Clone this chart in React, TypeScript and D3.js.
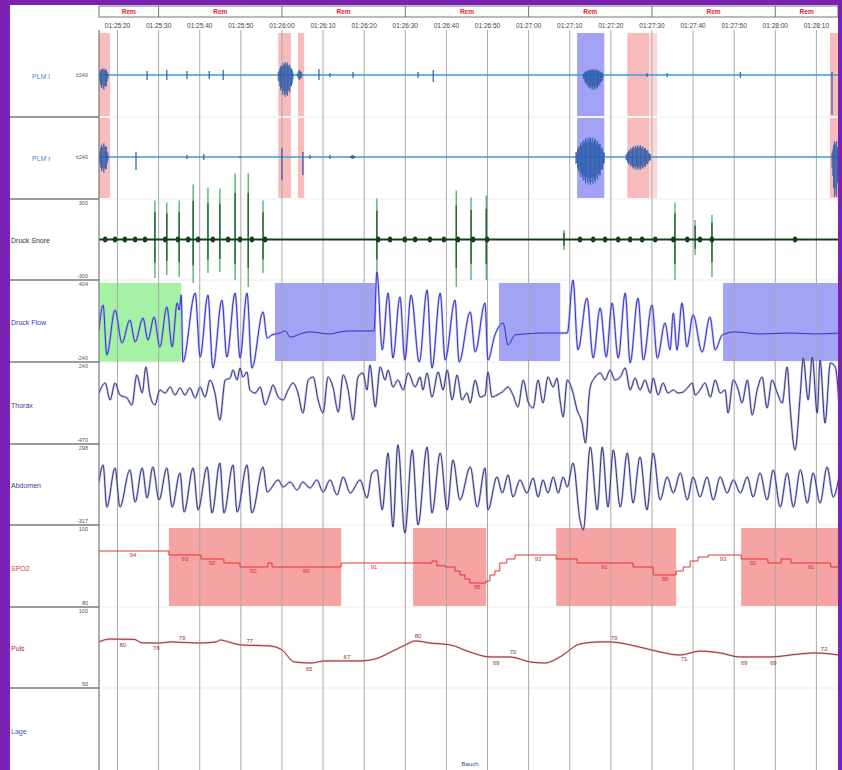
import React from "react";
import * as d3 from "d3";

// ---- time axis (seconds after 01:25:00) ----
const timeTicks = [20, 30, 40, 50, 60, 70, 80, 90, 100, 110, 120, 130, 140, 150, 160, 170, 180, 190];
const epochBounds = [30, 60, 90, 120, 150, 180];
const epochStarts = [15.5, 30, 60, 90, 120, 150, 180];
const epochEnds = [30, 60, 90, 120, 150, 180, 195.5];
const stageLabels = ["Rem", "Rem", "Rem", "Rem", "Rem", "Rem", "Rem"];

// ---- channel labels ----
const channelNames = ["PLM l", "PLM r", "Druck Snore", "Druck Flow", "Thorax", "Abdomen", "SPO2", "Puls", "Lage"];
const scaleTopLabels = ["", "", "300", "404", "240", "298", "100", "100", ""];
const scaleBottomLabels = ["", "", "-300", "-240", "-470", "-317", "80", "50", ""];
const plmScaleLabel = "±240";
const lageText = "Bauch";

// ---- event shading [start, end] in seconds ----
const plmPink: [number, number][] = [[15.5, 18.2], [59.1, 62.2], [63.9, 65.4], [144.0, 149.3], [193.3, 195.5]];
const plmPinkLight: [number, number][] = [[149.3, 151.3]];
const plmBlue: [number, number][] = [[131.8, 138.4]];
const flowGreen: [number, number][] = [[15.5, 35.5]];
const flowBlue: [number, number][] = [[58.3, 82.9], [112.8, 127.7], [167.3, 195.5]];
const spo2Pink: [number, number][] = [[32.5, 74.4], [91.9, 109.7], [126.7, 155.9], [171.7, 195.5]];

// ---- PLM events [tStart, tEnd, up, down] ----
const plmL: [number, number, number, number][] = [
  [15.5, 17.7, 42, 90], [27.2, 27.2, 24, 30], [32.0, 32.0, 30, 30], [36.9, 36.9, 24, 24], [42.3, 42.3, 24, 24],
  [45.7, 45.7, 30, 30], [59.1, 62.7, 78, 132], [63.7, 64.9, 30, 30], [69.0, 69.0, 36, 30], [71.7, 71.7, 12, 12],
  [77.3, 77.3, 18, 18], [93.1, 93.1, 18, 18], [96.8, 96.8, 30, 42], [133.3, 138.1, 36, 90], [148.8, 148.8, 12, 12],
  [153.7, 153.7, 12, 12], [171.5, 171.5, 18, 18], [193.8, 193.8, 18, 240],
];
const plmR: [number, number, number, number][] = [
  [15.5, 17.7, 84, 96], [24.5, 24.5, 30, 78], [36.9, 36.9, 12, 12], [41.0, 41.0, 18, 18], [49.8, 49.8, 6, 6],
  [60.0, 60.0, 54, 138], [65.1, 65.1, 30, 108], [66.8, 66.8, 12, 12], [71.7, 71.7, 12, 12], [76.6, 77.8, 12, 12],
  [131.5, 138.4, 120, 168], [143.7, 149.6, 72, 78], [193.8, 195.5, 102, 258],
];

// ---- Snore spikes [t, up, down] and beads [t] ----
const snoreSpikes: [number, number, number][] = [
  [29.1, 321, -316], [32.0, 304, -292], [35.0, 321, -308], [38.4, 452, -357], [42.0, 427, -275], [44.9, 419, -267],
  [48.6, 542, -333], [51.8, 542, -390], [55.4, 321, -275], [83.1, 337, -275], [102.4, 403, -390], [106.0, 345, -333],
  [109.7, 362, -333], [128.6, 78, -86], [155.6, 304, -333], [160.5, 160, -127], [164.6, 201, -308],
];
const snoreBeads = [17.0, 19.4, 21.8, 24.3, 26.7, 31.6, 34.7, 37.2, 39.6, 43.2, 46.9, 49.8, 52.7, 55.9, 83.4, 86.3, 89.9, 92.4,
  96.0, 99.4, 102.8, 106.5, 109.9, 132.5, 135.7, 138.6, 141.8, 144.7, 147.6, 150.8, 155.2, 158.6, 161.7, 164.6, 184.8];

// ---- Flow extrema [t, value] ----
const flow: [number, number][] = [
  [15.5, 16], [16.5, 222], [17.4, -190], [19.4, 181], [21.1, -91], [23.0, 99], [24.3, -83], [26.2, 115], [27.4, -67],
  [28.9, 123], [30.3, -124], [32.0, 206], [33.3, -124], [34.5, 239], [35.0, 181], [35.5, 305], [35.9, -248],
  [38.9, 321], [40.1, -207], [42.0, 305], [43.2, -298], [45.4, 264], [46.6, -207], [48.6, 321], [49.8, -215],
  [51.5, 321], [52.7, -298], [55.4, 165], [56.4, -50],
  [57.6, -25], [59.5, -9], [60.8, 8], [62.0, -42], [63.2, -34], [64.4, -17], [66.8, 0], [69.3, -9], [71.6, -17],
  [74.1, 0], [76.6, 8], [79.0, 8], [82.4, 8],
  [83.1, 495], [84.4, -149], [85.8, 321], [87.0, -215], [88.7, 289], [89.9, -232], [91.4, 305], [93.4, -248],
  [95.3, 346], [96.5, -298], [98.5, 321], [99.7, -232], [102.1, 264], [103.1, -248], [105.8, 165], [107.0, -166],
  [109.4, 239], [110.1, -232], [111.8, -25], [113.8, 74], [115.0, -108], [116.7, -25], [119.1, -17], [122.8, -9],
  [126.4, -9], [129.4, -9],
  [130.8, 429], [132.0, -149], [134.2, 280], [135.7, -215], [137.4, 198], [138.9, -207], [140.3, 239], [141.8, -215],
  [143.5, 321], [144.7, -256], [146.6, 280], [147.9, -232], [150.0, 222], [151.3, -215], [153.2, 74], [154.4, -149],
  [155.2, 156], [156.1, -149], [157.3, 239], [158.5, -124], [160.0, 140], [162.2, -166], [164.1, 123], [165.4, -149],
  [167.1, -25], [170.2, 0], [176.3, -17], [183.6, -9], [189.7, -17], [195.5, -9],
];

// ---- Thorax extrema [t, value] ----
const thorax: [number, number][] = [
  [15.5, -16], [17.0, 79], [18.2, -82], [19.4, 79], [20.6, -35], [22.3, -63], [23.5, -129], [24.7, 155], [26.0, -16],
  [26.9, 231], [27.9, -35], [29.1, -129], [30.3, 13], [31.6, -16], [32.8, 41], [34.0, -35], [35.2, 32], [36.4, -35],
  [37.6, 32], [38.9, -63], [40.1, 41], [41.3, -54], [42.5, 107], [43.7, -16], [44.9, -271], [46.2, 107], [47.4, 126],
  [48.1, 202], [49.1, 107], [49.8, 221], [50.5, 136], [51.5, 183], [52.2, 13], [53.5, -16], [54.7, 41], [55.9, -129],
  [57.1, -16], [57.8, 60], [59.1, -54], [60.3, -82], [61.5, 13], [62.7, 79], [63.9, -16], [65.1, -205], [66.4, 107],
  [67.6, 136], [68.8, -82], [70.0, -205], [71.2, 136], [72.4, 41], [73.7, -196], [74.9, 155], [76.1, 13], [77.3, -271],
  [78.5, 136], [79.7, 174], [80.7, 13], [81.4, 250], [82.7, -148], [83.9, 231], [85.1, 107], [85.8, 202], [87.0, 41],
  [88.2, 107], [89.5, 13], [90.7, 174], [92.4, 41],
  [93.6, 136], [94.3, 13], [95.3, 174], [96.5, -54], [98.0, 183], [99.2, 13], [100.2, 202], [101.4, -82], [102.6, 155],
  [103.8, -82], [105.0, -16], [105.8, -110], [107.0, 107], [108.2, -54], [109.4, -35], [110.1, 183], [111.1, -54],
  [112.3, -35], [113.6, -6], [115.0, 41], [116.2, -35], [117.4, -148], [118.7, 107], [119.9, -101], [121.1, -158],
  [122.3, 107], [123.5, -110], [124.7, 136], [126.0, 41], [126.9, 126], [127.7, -101], [128.4, -243], [129.4, 107],
  [130.6, 13], [131.8, -177], [133.0, -300], [133.8, -489], [134.2, -366], [134.5, -148], [135.0, 41], [136.2, 136],
  [137.4, 174], [138.6, 107], [139.8, 202], [141.0, 107], [142.3, 136], [143.5, 221], [144.7, 13], [145.9, 126],
  [147.1, 13], [148.3, 107], [149.6, -16], [150.3, 126], [151.5, -35], [152.7, 79], [153.9, -16], [155.2, 13],
  [156.4, -16], [157.6, -6], [158.8, 41], [159.8, 79], [160.5, -35], [161.7, 13], [162.9, 79], [164.2, -54],
  [165.4, 107], [166.6, -16], [167.8, 13], [168.5, -205], [169.8, 107], [171.0, 13], [171.9, -110], [173.2, 107],
  [174.4, -224], [175.6, 13], [176.8, 136], [178.0, -158], [179.2, 107], [180.5, -16], [181.7, -110], [182.9, 231],
  [183.6, -148], [184.8, -555], [186.1, -16], [186.8, 316], [188.0, -82], [189.0, 325], [190.2, -205], [190.9, 297],
  [192.1, -300], [193.4, 268], [194.6, 231], [195.5, -110],
];

// ---- Abdomen extrema [t, value] ----
const abdomen: [number, number][] = [
  [15.5, 19], [16.5, 159], [17.4, -186], [19.4, 134], [20.6, -186], [23.0, 118], [24.3, -145], [26.0, 134], [27.2, -112],
  [28.6, 142], [30.1, -128], [32.0, 134], [33.3, -186], [35.2, 93], [36.2, -227], [38.4, 134], [39.6, -210], [41.8, 142],
  [43.0, -235], [44.9, 175], [45.9, -235], [48.1, 159], [49.1, -227], [51.5, 159], [52.7, -235], [55.4, 142], [56.4, -63],
  [59.1, 36], [60.3, -22], [62.0, 19], [63.7, -46], [65.1, 19], [66.8, -30], [68.5, 36], [70.0, -63], [71.7, 36],
  [73.4, -87], [74.9, 60], [76.6, -71], [79.0, 36], [80.7, -112], [81.9, 93], [83.1, 118], [84.4, -210], [85.8, 257],
  [87.0, -350], [88.2, 323], [89.9, -399], [91.7, 282], [93.1, -333], [95.3, 306], [96.5, -235], [98.5, 257],
  [100.2, -210], [101.6, 200], [103.3, -128], [105.8, 142], [107.5, -186], [109.4, 134], [110.1, -210], [112.3, 60],
  [113.6, -71], [115.0, 77], [116.2, -104], [117.9, 36], [119.6, -71], [121.1, 52], [122.3, -104], [123.5, 36],
  [124.7, -71], [126.0, 60], [127.2, -71], [128.4, 60], [129.4, -22], [130.8, 175], [132.5, -292], [133.3, -374],
  [135.0, 306], [136.7, -210], [137.9, 306], [139.3, -186], [140.6, 282], [142.3, -186], [144.0, 257], [145.4, -153],
  [147.1, 224], [148.8, -210], [150.3, 257], [152.0, -128], [153.7, 60], [155.2, -71], [156.9, 93], [158.6, -128],
  [160.0, 60], [161.7, -104], [163.4, 60], [164.9, -128], [166.6, 60], [168.3, -71], [169.8, 36], [171.5, -71],
  [173.2, 60], [174.6, -104], [176.3, 93], [178.0, -128], [179.5, 118], [181.2, -186], [182.9, 93], [184.4, -186],
  [186.1, 118], [187.8, -153], [189.2, 93], [190.9, -153], [192.6, 142], [194.1, -104], [195.5, 60],
];

// ---- SpO2 (step) and labels ----
const spo2: [number, number][] = [
  [15.5, 94], [32.5, 93], [40.3, 92], [45.9, 91], [49.8, 90], [56.6, 91], [57.6, 90], [74.4, 91], [96.5, 91.5],
  [97.7, 90.3], [99.7, 90], [102.1, 89], [103.3, 88], [104.5, 87], [105.7, 86], [109.6, 86.5], [110.6, 88],
  [111.8, 89], [113.0, 91], [114.7, 92], [116.7, 93], [126.7, 92], [131.8, 91], [145.4, 90], [150.3, 88], [155.9, 89],
  [157.6, 90], [159.3, 91.5], [161.2, 92.5], [163.7, 93], [171.7, 92], [178.2, 91], [181.4, 92], [183.8, 91],
  [193.5, 90], [195.5, 90],
];
const spo2Labels: [number, number][] = [
  [23.8, 94], [36.4, 93], [43.0, 92], [53.0, 90], [65.9, 90], [82.4, 91], [107.5, 86], [122.3, 93], [138.4, 91],
  [153.2, 88], [167.3, 93], [174.6, 92], [188.7, 91],
];

// ---- Pulse and labels ----
const puls: [number, number][] = [
  [15.5, 78.8], [18, 80.6], [24, 80.4], [26, 78.2], [30, 78.1], [33, 78.8], [40, 78.1], [44, 78.8], [45, 80], [47, 78.8],
  [50, 76.9], [57, 76.3], [60, 73.8], [63, 66.3], [67, 65.6], [70.5, 66.9], [79, 66.9], [82.6, 68.1], [87.5, 73.8],
  [90, 76.9], [92.4, 79.4], [96, 78.1], [101, 76.9], [105.7, 72.5], [110.6, 69.4], [115.5, 69.4], [120.3, 66.3],
  [124, 65.6], [127.6, 69.4], [132.5, 77.5], [137.4, 78.8], [139.8, 78.8], [147, 75.6], [152, 72.5], [156.8, 70.6],
  [161.7, 73.1], [166.6, 71.9], [171.4, 69.4], [178.7, 69.4], [186, 71.3], [189.7, 71.9], [195.5, 70.6],
];
const pulsLabels: [number, number][] = [
  [21.3, 80], [29.4, 78], [35.7, 79], [52.2, 77], [66.6, 65], [75.8, 67], [93.1, 80], [112.1, 69], [116.2, 70],
  [140.8, 79], [157.8, 71], [172.4, 69], [179.5, 69], [191.9, 72],
];

const PURPLE = "#7a22b4";
const FONT = "'Liberation Sans', Arial, sans-serif";

const fmtTime = (s: number) => {
  const m = 25 + Math.floor(s / 60);
  const sec = s % 60;
  return `01:${String(m).padStart(2, "0")}:${String(sec).padStart(2, "0")}`;
};

function interp(pts: [number, number][], t: number) {
  for (let i = 0; i < pts.length - 1; i++) {
    if (t >= pts[i][0] && t <= pts[i + 1][0]) {
      const f = (t - pts[i][0]) / (pts[i + 1][0] - pts[i][0] || 1);
      return pts[i][1] + f * (pts[i + 1][1] - pts[i][1]);
    }
  }
  return pts[pts.length - 1][1];
}

export default function App() {
  const L = 99, R = 838;
  const x = d3.scaleLinear().domain([15.5, 195.5]).range([99, 839]);
  const bounds = [33, 117, 199, 280, 362, 444, 525, 607, 688, 770];
  const labelY = [76, 158, 240, 322, 405, 485, 568, 648, 731];
  const labelColors = ["#3f8fd6", "#3f8fd6", "#333333", "#3535c8", "#3b3b90", "#3b3b90", "#e03535", "#a03035", "#3060b0"];

  const yPlmL = d3.scaleLinear().domain([-240, 240]).range([115, 35]);
  const yPlmR = d3.scaleLinear().domain([-240, 240]).range([197, 117]);
  const ySnore = d3.scaleLinear().domain([-300, 300]).range([276, 203]);
  const yFlow = d3.scaleLinear().domain([-240, 404]).range([361, 283]);
  const yThorax = d3.scaleLinear().domain([-470, 240]).range([441, 366]);
  const yAbd = d3.scaleLinear().domain([-317, 298]).range([523, 448]);
  const ySpo2 = d3.scaleLinear().domain([80, 100]).range([607, 527]);
  const yPuls = d3.scaleLinear().domain([50, 100]).range([688, 608]);

  const smooth = (y: d3.ScaleLinear<number, number>) =>
    d3.line<[number, number]>().x((d) => x(d[0])).y((d) => y(d[1])).curve(d3.curveMonotoneX);
  const stepLine = d3.line<[number, number]>().x((d) => x(d[0])).y((d) => ySpo2(d[1])).curve(d3.curveStepAfter);
  const pulsLine = d3.line<[number, number]>().x((d) => x(d[0])).y((d) => yPuls(d[1])).curve(d3.curveMonotoneX);

  const rects = (list: [number, number][], y0: number, y1: number, fill: string, key: string) =>
    list.map((r, i) => (
      <rect key={key + i} x={x(r[0])} y={y0} width={Math.max(0, Math.min(R, x(r[1])) - x(r[0]))} height={y1 - y0} fill={fill} />
    ));

  const plmMarks = (events: [number, number, number, number][], y: d3.ScaleLinear<number, number>, key: string) => {
    const out: JSX.Element[] = [];
    events.forEach((e, i) => {
      const [t0, t1, up, down] = e;
      const d = t1 - t0;
      if (d < 0.3) {
        out.push(<line key={key + i} x1={x(t0)} x2={x(t0)} y1={y(up)} y2={y(-down)} stroke="#2b5cab" strokeWidth={1.2} />);
      } else {
        const n = Math.max(4, Math.round((x(t1) - x(t0)) / 0.8));
        for (let k = 0; k <= n; k++) {
          const f = k / n;
          const env = Math.max(0.25, Math.sqrt(Math.sin(Math.PI * f)));
          const wob = k % 3 === 0 ? 1 : k % 3 === 1 ? 0.75 : 0.9;
          const tt = t0 + f * d;
          out.push(
            <line key={key + i + "_" + k} x1={x(tt)} x2={x(tt)} y1={y(up * env * wob)} y2={y(-down * env * wob)}
              stroke="#2b5cab" strokeWidth={1} opacity={0.9} />
          );
        }
      }
    });
    return out;
  };

  return (
    <svg width={842} height={770} style={{ position: "absolute", left: 0, top: 0, display: "block" }} fontFamily={FONT}>
      <defs>
        <clipPath id="plot">
          <rect x={L} y={0} width={R - L} height={770} />
        </clipPath>
      </defs>
      <rect x={0} y={0} width={842} height={770} fill={PURPLE} />
      <rect x={10} y={5} width={R - 10} height={765} fill="#ffffff" />

      {/* header */}
      <rect x={L} y={6} width={R - L} height={11} fill="#fff" stroke="#555" strokeWidth={0.8} />
      {epochBounds.map((t) => (
        <line key={"eb" + t} x1={x(t)} x2={x(t)} y1={6} y2={17} stroke="#555" strokeWidth={0.8} />
      ))}
      {stageLabels.map((s, i) => (
        <text key={"st" + i} x={(x(epochStarts[i]) + Math.min(R, x(epochEnds[i]))) / 2} y={14.2} fontSize={6.5}
          fontWeight="bold" fill="#e02828" textAnchor="middle">{s}</text>
      ))}
      {timeTicks.map((t) => (
        <text key={"tt" + t} x={x(t)} y={27.5} fontSize={6.5} fill="#444" textAnchor="middle">{fmtTime(t)}</text>
      ))}

      {/* label column */}
      {bounds.slice(1, -1).map((b) => (
        <line key={"sep" + b} x1={10} x2={L} y1={b} y2={b} stroke="#7a7a7a" strokeWidth={1.4} />
      ))}
      {channelNames.map((n, i) => (
        <text key={"cn" + i} x={i < 2 ? 32 : 11} y={labelY[i]} fontSize={7} fill={labelColors[i]} dominantBaseline="central">{n}</text>
      ))}
      {channelNames.map((n, i) => (
        <g key={"sc" + i}>
          {scaleTopLabels[i] && (
            <text x={88} y={bounds[i] + 6} fontSize={5.5} fill="#555" textAnchor="end">{scaleTopLabels[i]}</text>
          )}
          {scaleBottomLabels[i] && (
            <text x={88} y={bounds[i + 1] - 2} fontSize={5.5} fill="#555" textAnchor="end">{scaleBottomLabels[i]}</text>
          )}
        </g>
      ))}
      <text x={88} y={yPlmL(0)} fontSize={5.5} fill="#555" textAnchor="end" dominantBaseline="central">{plmScaleLabel}</text>
      <text x={88} y={yPlmR(0)} fontSize={5.5} fill="#555" textAnchor="end" dominantBaseline="central">{plmScaleLabel}</text>

      <g clipPath="url(#plot)">
        {/* shading */}
        {rects(plmPink, 33, 116, "#f9bcbc", "pl")}
        {rects(plmPink, 118, 198, "#f9bcbc", "pr")}
        {rects(plmPinkLight, 33, 116, "#fcdada", "pll")}
        {rects(plmPinkLight, 118, 198, "#fcdada", "plr")}
        {rects(plmBlue, 33, 116, "#a3a3f6", "bl")}
        {rects(plmBlue, 118, 198, "#a3a3f6", "br")}
        {rects(flowGreen, 283, 362, "#a4f2a4", "fg")}
        {rects(flowBlue, 283, 361, "#a3a3f6", "fb")}
        {rects(spo2Pink, 528, 606, "#f6a3a3", "sp")}

        {/* faint panel separators */}
        {bounds.slice(1, -1).map((b) => (
          <line key={"hs" + b} x1={L} x2={R} y1={b} y2={b} stroke="#eeeeee" strokeWidth={1} />
        ))}

        {/* grid */}
        {timeTicks.map((t) => (
          <line key={"g" + t} x1={x(t)} x2={x(t)} y1={30} y2={770} stroke="#a9a9a9" strokeWidth={1} />
        ))}

        {/* PLM */}
        <line x1={L} x2={R} y1={yPlmL(0)} y2={yPlmL(0)} stroke="#3c9ad8" strokeWidth={1.7} />
        <line x1={L} x2={R} y1={yPlmR(0)} y2={yPlmR(0)} stroke="#3c9ad8" strokeWidth={1.7} />
        {plmMarks(plmL, yPlmL, "ml")}
        {plmMarks(plmR, yPlmR, "mr")}

        {/* Snore */}
        {snoreSpikes.map((s, i) => (
          <g key={"ss" + i}>
            <line x1={x(s[0])} x2={x(s[0])} y1={ySnore(s[1])} y2={ySnore(s[2])} stroke="#45b06a" strokeWidth={1.3} />
            <line x1={x(s[0])} x2={x(s[0])} y1={ySnore(s[1] * 0.7)} y2={ySnore(s[2] * 0.6)} stroke="#1d5a2b" strokeWidth={1.3} />
          </g>
        ))}
        <line x1={L} x2={R} y1={ySnore(0)} y2={ySnore(0)} stroke="#153f16" strokeWidth={2.2} />
        {snoreBeads.map((t, i) => (
          <ellipse key={"bd" + i} cx={x(t)} cy={ySnore(0)} rx={2.2} ry={3} fill="#153f16" />
        ))}

        {/* Flow */}
        <path d={smooth(yFlow)(flow) || ""} fill="none" stroke="#9a9af2" strokeWidth={2.4} opacity={0.6} />
        <path d={smooth(yFlow)(flow) || ""} fill="none" stroke="#3434c8" strokeWidth={1} />

        {/* Thorax */}
        <path d={smooth(yThorax)(thorax) || ""} fill="none" stroke="#a3a3d8" strokeWidth={2.4} opacity={0.6} />
        <path d={smooth(yThorax)(thorax) || ""} fill="none" stroke="#34347e" strokeWidth={1} />

        {/* Abdomen */}
        <path d={smooth(yAbd)(abdomen) || ""} fill="none" stroke="#a3a3d8" strokeWidth={2.4} opacity={0.6} />
        <path d={smooth(yAbd)(abdomen) || ""} fill="none" stroke="#34347e" strokeWidth={1} />

        {/* SpO2 */}
        <path d={stepLine(spo2) || ""} fill="none" stroke="#e53333" strokeWidth={1} />
        {spo2Labels.map((l, i) => (
          <text key={"sl" + i} x={x(l[0])} y={ySpo2(l[1]) + 4} fontSize={6} fill="#d83030" textAnchor="middle"
            dominantBaseline="central">{l[1]}</text>
        ))}

        {/* Pulse */}
        <path d={pulsLine(puls) || ""} fill="none" stroke="#e2b0b0" strokeWidth={2.2} opacity={0.7} />
        <path d={pulsLine(puls) || ""} fill="none" stroke="#983238" strokeWidth={1} />
        {pulsLabels.map((l, i) => {
          const above = l[1] >= interp(puls, l[0]);
          return (
            <text key={"pl" + i} x={x(l[0])} y={yPuls(l[1]) + (above ? -4 : 5)} fontSize={6} fill="#983238"
              textAnchor="middle" dominantBaseline="central">{l[1]}</text>
          );
        })}
      </g>

      {/* plot left border */}
      <line x1={L} x2={L} y1={30} y2={770} stroke="#777" strokeWidth={1.2} />
      <text x={470} y={766} fontSize={6} fill="#3050a0" textAnchor="middle">{lageText}</text>

      {/* right purple border */}
      <rect x={R} y={0} width={842 - R} height={770} fill={PURPLE} />
    </svg>
  );
}
